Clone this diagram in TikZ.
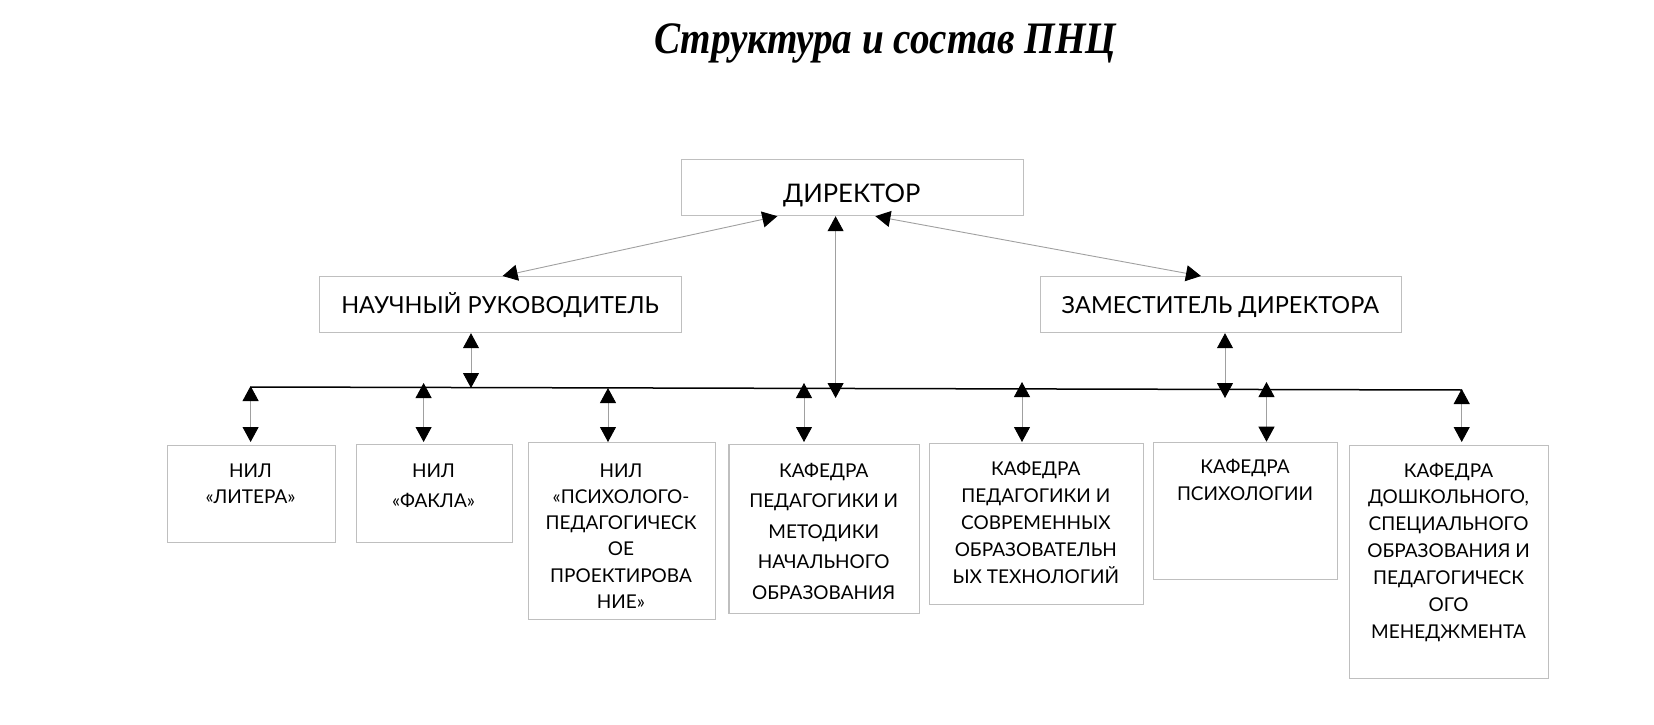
\documentclass[tikz,border=0pt]{standalone}
\usepackage{fontspec}
\setmainfont{Lato}
\newfontfamily\titlefont{Liberation Serif}
\usetikzlibrary{arrows.meta,calc}
\definecolor{boxgray}{HTML}{BFBFBF}
\definecolor{linegray}{HTML}{A0A0A0}
\begin{document}
\begin{tikzpicture}[x=1pt,y=-1pt,
  box/.style={draw=boxgray, line width=1.2pt, inner sep=0pt, anchor=north west},
  toplbl/.style={font=\fontsize{23.5}{28}\selectfont, anchor=base, inner sep=0pt},
  lbl/.style={align=center, anchor=base, inner sep=0pt},
  conn/.style={draw=linegray, line width=0.9pt,
    {Triangle[width=16pt,length=15pt,color=black]}-{Triangle[width=16pt,length=15pt,color=black]}},
  bus/.style={draw=black, line width=1.5pt}]
\useasboundingbox (0,0) rectangle (1654,725);

% title
\node[font=\titlefont\bfseries\itshape\fontsize{45}{50}\selectfont, anchor=base, inner sep=0pt] (title) at (885,54) {\scalebox{0.87}[1]{Структура и состав ПНЦ}};

% upper boxes
\node[box, minimum width=341.5pt, minimum height=56pt] (dir) at (681,159) {};
\node[toplbl, font=\fontsize{25.6}{30}\selectfont] (tdir) at (851.75,202) {ДИРЕКТОР};
\node[box, minimum width=362pt, minimum height=56pt] (nr) at (319,276) {};
\node[toplbl] (tnr) at (500,313) {НАУЧНЫЙ РУКОВОДИТЕЛЬ};
\node[box, minimum width=360.7pt, minimum height=56pt] (zd) at (1040,276) {};
\node[toplbl] (tzd) at (1220.3,313) {ЗАМЕСТИТЕЛЬ ДИРЕКТОРА};

% lower boxes
\node[box, minimum width=168pt, minimum height=97pt] (b1) at (166.5,445) {};
\node[box, minimum width=156pt, minimum height=98pt] (b2) at (355.5,444) {};
\node[box, minimum width=186.5pt, minimum height=177pt] (b3) at (528,442) {};
\node[box, minimum width=190.6pt, minimum height=169pt] (b4) at (728.4,444) {};
\node[box, minimum width=214.4pt, minimum height=161pt] (b5) at (928.6,443) {};
\node[box, minimum width=184pt, minimum height=137.3pt] (b6) at (1153,441.7) {};
\node[box, minimum width=199pt, minimum height=232.7pt] (b7) at (1349,445) {};

% labels (anchor = baseline of the last line)
\node[lbl, font=\fontsize{19}{26}\selectfont] (t1) at (250.5,503) {НИЛ\\«ЛИТЕРА»};
\node[lbl, font=\fontsize{19}{30}\selectfont] (t2) at (433.5,507) {НИЛ\\«ФАКЛА»};
\node[lbl, font=\fontsize{19}{26.3}\selectfont] (t3) at (621,608.5) {НИЛ\\«ПСИХОЛОГО-\\ПЕДАГОГИЧЕСК\\ОЕ\\ПРОЕКТИРОВА\\НИЕ»};
\node[lbl, font=\fontsize{19}{30.5}\selectfont] (t4) at (823.7,599) {КАФЕДРА\\ПЕДАГОГИКИ И\\МЕТОДИКИ\\НАЧАЛЬНОГО\\ОБРАЗОВАНИЯ};
\node[lbl, font=\fontsize{19}{27}\selectfont] (t5) at (1035.8,583) {КАФЕДРА\\ПЕДАГОГИКИ И\\СОВРЕМЕННЫХ\\ОБРАЗОВАТЕЛЬН\\ЫХ ТЕХНОЛОГИЙ};
\node[lbl, font=\fontsize{19}{27}\selectfont] (t6) at (1245,500) {КАФЕДРА\\ПСИХОЛОГИИ};
\node[lbl, font=\fontsize{19}{26.9}\selectfont] (t7) at (1448.5,638.4) {КАФЕДРА\\ДОШКОЛЬНОГО,\\СПЕЦИАЛЬНОГО\\ОБРАЗОВАНИЯ И\\ПЕДАГОГИЧЕСК\\ОГО\\МЕНЕДЖМЕНТА};

% bus line and its connection points
\coordinate (busL) at (251,387);
\coordinate (busR) at (1462,390);
\draw[bus] (busL) -- (busR);
\coordinate (bN) at (471,388);
\coordinate (bD) at (835.6,398);
\coordinate (bZ) at (1225,398);
\coordinate (u1) at (250.6,386);
\coordinate (u2) at (423.6,383);
\coordinate (u3) at (608,388);
\coordinate (u4) at (804,383);
\coordinate (u5) at (1022,382);
\coordinate (u6) at (1266.5,382);
\coordinate (u7) at (1461.7,389);

% connectors
\draw[conn] ($(dir.south)+(-75,0)$) -- ($(nr.north)+(2,0)$);
\draw[conn] (dir.south -| bD) -- (bD);
\draw[conn] ($(dir.south)+(23,0)$) -- ($(zd.north)+(-20,0)$);
\draw[conn] (nr.south -| bN) -- (bN);
\draw[conn] (zd.south -| bZ) -- (bZ);
\draw[conn] (u1) -- ($(u1 |- b1.north)+(0,-3)$);
\draw[conn] (u2) -- ($(u2 |- b2.north)+(0,-2)$);
\draw[conn] (u3) -- (u3 |- b3.north);
\draw[conn] (u4) -- ($(u4 |- b4.north)+(0,-2)$);
\draw[conn] (u5) -- ($(u5 |- b5.north)+(0,-1)$);
\draw[conn] (u6) -- (u6 |- b6.north);
\draw[conn] (u7) -- ($(u7 |- b7.north)+(0,-3)$);
\end{tikzpicture}
\end{document}
